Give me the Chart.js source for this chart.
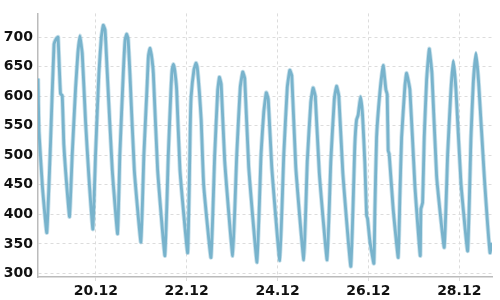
<!DOCTYPE html>
<html>
<head>
<meta charset="utf-8">
<script src="https://cdn.jsdelivr.net/npm/chart.js@4.4.1/dist/chart.umd.min.js"></script>
<style>
  html, body { margin: 0; padding: 0; background: #fff; }
  #wrap { width: 500px; height: 300px; }
</style>
</head>
<body>
<div id="wrap"><canvas id="myChart" width="500" height="300"></canvas></div>
<script>
// hours counted from 18.12 00:00
const hours = [
  17.43, 17.96, 19.81, 22.08, 24.04, 25.89, 27.21, 28.01, 28.80, 29.33,
  30.23, 31.08, 31.97, 34.09, 35.52, 37.26, 38.48, 39.54, 40.81, 42.55,
  44.30, 46.41, 47.84, 49.59, 50.86, 51.91, 52.87, 54.03, 56.67, 59.48,
  60.69, 62.49, 63.44, 64.24, 65.03, 65.98, 68.31, 71.80, 73.39, 74.97,
  75.77, 76.56, 77.35, 78.36, 80.63, 84.49, 86.29, 87.67, 88.30, 88.94,
  89.62, 90.68, 92.43, 96.50, 97.93, 98.35, 99.83, 100.89, 101.53, 102.69,
  103.64, 104.96, 108.82, 110.78, 112.37, 113.27, 114.22, 116.07, 120.30, 122.42,
  124.27, 125.59, 126.65, 128.76, 133.15, 135.27, 136.70, 138.02, 139.08, 140.93,
  145.16, 147.27, 149.13, 150.45, 151.51, 153.62, 157.85, 159.70, 161.55, 162.77,
  163.93, 166.05, 170.18, 172.13, 173.98, 175.15, 176.37, 178.48, 182.71, 184.83,
  185.72, 186.57, 187.84, 188.90, 190.12, 191.02, 191.54, 192.76, 194.87, 195.40,
  196.30, 198.05, 199.79, 201.22, 201.91, 202.44, 202.97, 205.08, 207.73, 208.63,
  209.53, 211.27, 212.17, 213.92, 216.56, 219.36, 219.73, 220.63, 221.48, 222.75,
  224.12, 225.55, 228.04, 232.06, 233.86, 235.60, 236.82, 238.25, 240.89, 244.43,
  246.18, 247.39, 248.82, 250.25, 253.21, 256.23, 257.29
];
const level = [
  630, 540, 445, 369, 520, 688, 698, 700, 640, 604,
  601, 518, 475, 396, 502, 612, 672, 702, 672, 557,
  464, 375, 502, 638, 699, 720, 712, 639, 475, 367,
  502, 639, 695, 705, 697, 639, 475, 353, 502, 611,
  668, 681, 670, 639, 475, 330, 502, 611, 645, 654,
  645, 611, 475, 335, 557, 600, 645, 656, 650, 607,
  560, 450, 327, 500, 610, 632, 620, 490, 330, 500,
  615, 641, 630, 480, 319, 502, 573, 606, 595, 480,
  322, 500, 615, 644, 635, 480, 323, 490, 590, 614,
  600, 470, 323, 490, 595, 617, 600, 470, 312, 518,
  560, 568, 599, 568, 486, 398, 393, 355, 317, 404,
  530, 606, 652, 611, 603, 508, 502, 409, 327, 431,
  530, 617, 639, 611, 448, 330, 409, 420, 530, 628,
  680, 639, 464, 344, 502, 611, 660, 611, 453, 338,
  530, 622, 673, 622, 464, 335, 352
];
const xTickHours = [48, 96, 144, 192, 240];
const xTickLabels = ['20.12', '22.12', '24.12', '26.12', '28.12'];
const yTicks = [300, 350, 400, 450, 500, 550, 600, 650, 700];

const points = hours.map((h, i) => ({x: h, y: level[i]}));
const labelFont = {family: 'DejaVu Sans', size: 14, weight: 'bold'};

const config = {
  type: 'line',
  data: {
    datasets: [{
      data: points,
      borderColor: '#78b3cc',
      borderWidth: 2.8,
      pointRadius: 0,
      tension: 0.12,
      order: 1
    }, {
      data: points,
      borderColor: 'rgba(120, 179, 204, 0.4)',
      borderWidth: 4.5,
      pointRadius: 0,
      tension: 0.12,
      order: 2
    }]
  },
  options: {
    responsive: false,
    animation: false,
    layout: { padding: {top: 5, right: 8, left: 0, bottom: 0} },
    plugins: { legend: {display: false}, tooltip: {enabled: false} },
    scales: {
      x: {
        type: 'linear',
        min: 17.43,
        max: 257.29,
        afterBuildTicks: s => { s.ticks = xTickHours.map(v => ({value: v})); },
        afterFit: s => { s.height = 23; },
        ticks: {
          font: labelFont,
          color: '#111',
          padding: 2,
          maxRotation: 0,
          callback: v => xTickLabels[xTickHours.indexOf(v)]
        },
        grid: { color: '#dcdcdc', tickLength: 4 },
        border: { color: '#bbb', width: 1.5, dash: [3, 3] }
      },
      y: {
        min: 294,
        max: 740,
        afterBuildTicks: s => { s.ticks = yTicks.map(v => ({value: v})); },
        afterFit: s => { s.width = 38; },
        ticks: { font: labelFont, color: '#111', padding: 5 },
        grid: { color: '#dcdcdc', drawTicks: false },
        border: { color: '#bbb', width: 1.5, dash: [3, 3] }
      }
    }
  }
};

const myChart = new Chart(document.getElementById('myChart'), config);
</script>
</body>
</html>
